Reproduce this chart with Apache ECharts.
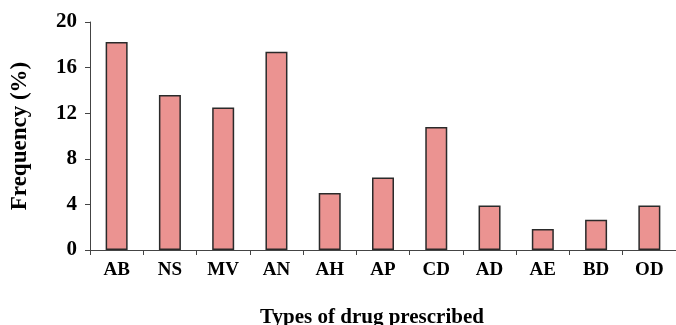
<!DOCTYPE html>
<html>
<head>
<meta charset="utf-8">
<script src="https://cdn.jsdelivr.net/npm/echarts@6/dist/echarts.min.js"></script>
<style>html,body{margin:0;padding:0;background:#fff;}#c{width:676px;height:325px;}</style>
</head>
<body>
<div id="c"></div>
<script>
const categories = ['AB','NS','MV','AN','AH','AP','CD','AD','AE','BD','OD'];
const frequency = [18.25, 13.6, 12.5, 17.4, 5.0, 6.35, 10.8, 3.9, 1.85, 2.65, 3.9];
const yTicks = { min: 0, max: 20, interval: 4 };
const xTitle = 'Types of drug prescribed';
const yTitle = 'Frequency (%)';

const font = '"Liberation Serif", "Times New Roman", serif';
const chart = echarts.init(document.getElementById('c'), null, { renderer: 'canvas' });
chart.setOption({
  animation: false,
  backgroundColor: '#fff',
  grid: { left: 90, top: 22, bottom: 75, width: 587 },
  title: {
    text: xTitle, left: 367, top: 302, textAlign: 'center',
    textStyle: { fontFamily: font, fontWeight: 'bold', fontSize: 21, color: '#000' }
  },
  xAxis: {
    type: 'category', data: categories,
    axisLine: { lineStyle: { color: '#444', width: 1 } },
    axisTick: { show: true, length: 5, alignWithLabel: false, lineStyle: { color: '#444' } },
    axisLabel: { margin: 11, fontFamily: font, fontWeight: 'bold', fontSize: 19, color: '#000' },
    splitLine: { show: false }
  },
  yAxis: {
    type: 'value', min: yTicks.min, max: yTicks.max, interval: yTicks.interval,
    name: yTitle, nameLocation: 'middle', nameGap: 58,
    nameTextStyle: { fontFamily: font, fontWeight: 'bold', fontSize: 23, color: '#000' },
    axisLine: { show: true, lineStyle: { color: '#444', width: 1 } },
    axisTick: { show: true, length: 5, lineStyle: { color: '#444' } },
    axisLabel: { margin: 13, fontFamily: font, fontWeight: 'bold', fontSize: 21, color: '#000' },
    splitLine: { show: false }
  },
  series: [{
    type: 'bar', data: frequency, barWidth: 22,
    itemStyle: { color: '#eb9391', borderColor: '#2a2a2a', borderWidth: 1.5 }
  }]
});
</script>
</body>
</html>
